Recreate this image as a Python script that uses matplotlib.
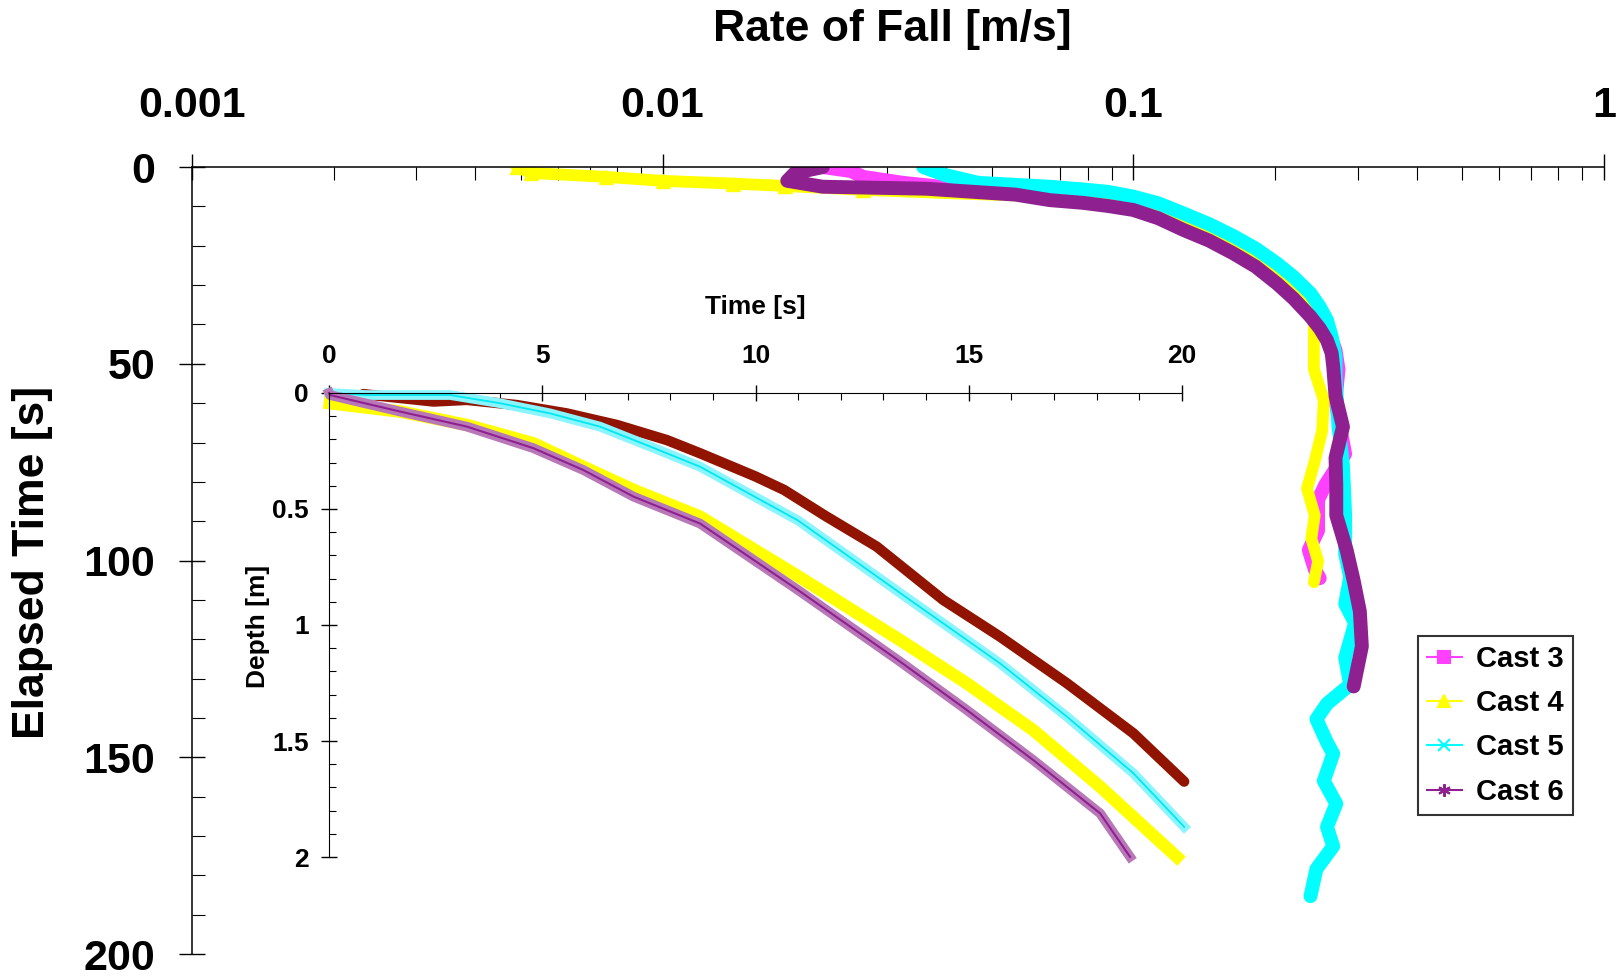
# Rate of fall vs elapsed time, with depth/time inset
import matplotlib
matplotlib.use('Agg')
import matplotlib.pyplot as plt
from matplotlib.ticker import LogLocator, MultipleLocator, NullFormatter
from matplotlib.lines import Line2D

plt.rcParams['font.family'] = ['Liberation Sans', 'DejaVu Sans']
plt.rcParams['font.weight'] = 'bold'

# ---- main plot data: elapsed time [s] and rate of fall [m/s] ----
cast3_time = [0, 1.0, 2.5, 4.0, 5.0, 6.2, 8.7, 13.0, 19.0, 26.0, 33.8, 40.6, 46.5, 51.4,
              59.2, 66.0, 72.9, 80.7, 84.6, 92.4, 97.3, 102.2, 104.5]
cast3_rate = [0.0219, 0.0251, 0.0267, 0.0324, 0.0389, 0.0665, 0.100, 0.128, 0.163, 0.202,
              0.238, 0.258, 0.269, 0.273, 0.269, 0.275, 0.282, 0.256, 0.247, 0.247, 0.236,
              0.243, 0.249]

cast4_time = [0, 1.5, 2.5, 3.5, 4.2, 4.8, 5.8, 6.9, 7.5, 8.2, 9.1, 9.9, 11.8, 14.5, 17.3,
              20.5, 23.7, 27.6, 31.3, 35.5, 39.8, 43.6, 51.4, 59.2, 67.0, 74.8, 81.7, 88.5,
              94.4, 100.2, 105.5]
cast4_rate = [0.0049, 0.00525, 0.00759, 0.0100, 0.0141, 0.0182, 0.0267, 0.0468, 0.0665,
              0.0783, 0.0885, 0.100, 0.113, 0.128, 0.145, 0.163, 0.182, 0.202, 0.219, 0.234,
              0.242, 0.242, 0.242, 0.254, 0.252, 0.243, 0.234, 0.243, 0.239, 0.247, 0.242]

cast5_time = [0, 2.0, 4.0, 5.0, 5.7, 6.3, 7.5, 9.2, 11.8, 14.5, 17.5, 20.7, 24.5, 27.9, 32.1,
              35.5, 38.9, 43.1, 48.2, 53.3, 66.0, 75.8, 88.5, 98.3, 104.2, 111.0, 115.9,
              124.7, 131.5, 136.4, 140.3, 146.2, 149.1, 156.0, 161.8, 167.7, 172.6, 178.4,
              185.3]
cast5_rate = [0.0358, 0.0398, 0.0468, 0.0665, 0.0783, 0.0885, 0.100, 0.113, 0.128, 0.145,
              0.163, 0.182, 0.202, 0.219, 0.238, 0.249, 0.258, 0.264, 0.269, 0.269, 0.273,
              0.279, 0.282, 0.282, 0.289, 0.282, 0.296, 0.282, 0.289, 0.258, 0.245, 0.258,
              0.266, 0.254, 0.270, 0.258, 0.266, 0.245, 0.238]

cast6_time = [0, 1.5, 3.5, 5.0, 5.5, 7.0, 8.4, 9.1, 9.9, 10.9, 13.0, 16.0, 18.7, 21.9, 25.3,
              29.6, 33.4, 38.0, 41.0, 44.0, 47.3, 50.7, 58.2, 66.0, 73.9, 80.7, 88.5, 97.3,
              105.1, 112.9, 121.8, 132.0]
cast6_rate = [0.0219, 0.0191, 0.0184, 0.0219, 0.0363, 0.0562, 0.0665, 0.0783, 0.0885, 0.100,
              0.113, 0.128, 0.145, 0.163, 0.182, 0.202, 0.219, 0.238, 0.249, 0.258, 0.264,
              0.266, 0.269, 0.279, 0.269, 0.270, 0.270, 0.284, 0.294, 0.303, 0.306, 0.294]

# ---- inset data: time [s] and depth [m] ----
in3_time = [0.8, 2.45, 3.23, 4.4, 5.57, 6.75, 7.92, 8.7, 10.0, 10.67, 11.63, 12.84, 14.4,
            15.73, 17.3, 18.86, 20.05]
in3_depth = [0.005, 0.037, 0.030, 0.052, 0.088, 0.138, 0.203, 0.26, 0.36, 0.418, 0.529,
             0.662, 0.892, 1.05, 1.251, 1.467, 1.675]

in4_time = [0.02, 1.66, 3.23, 4.79, 5.96, 7.14, 8.7, 11.0, 13.39, 14.95, 16.51, 18.08, 19.88]
in4_depth = [0.044, 0.08, 0.138, 0.217, 0.318, 0.418, 0.533, 0.79, 1.065, 1.251, 1.453,
             1.697, 2.0]

in5_time = [0, 0.88, 2.84, 4.0, 5.18, 6.35, 7.53, 8.7, 11.0, 13.62, 15.73, 17.3, 18.86, 20.05]
in5_depth = [0.0, 0.009, 0.009, 0.044, 0.088, 0.145, 0.231, 0.318, 0.55, 0.892, 1.165,
             1.395, 1.639, 1.87]

in6_time = [0, 0.02, 1.66, 3.23, 4.79, 5.96, 7.14, 8.7, 11.0, 13.39, 14.95, 16.51, 18.08, 18.78]
in6_depth = [0, 0.009, 0.08, 0.145, 0.238, 0.332, 0.447, 0.563, 0.85, 1.158, 1.366, 1.582,
             1.812, 1.999]

cast_labels = ['Cast 3', 'Cast 4', 'Cast 5', 'Cast 6']
colors = ['#ff40ff', '#ffff00', '#00ffff', '#8e2090']
markers = ['s', '^', 'x', (6, 2, 0)]
maroon = '#901400'

fig = plt.figure(figsize=(16.17, 9.77), dpi=100)

# ---- main axes ----
ax = fig.add_axes([0.1187, 0.0235, 0.8732, 0.8055])
ax.set_facecolor('none')
main_series = [(cast3_rate, cast3_time), (cast4_rate, cast4_time),
               (cast5_rate, cast5_time), (cast6_rate, cast6_time)]
for i, ((r, t), c) in enumerate(zip(main_series, colors)):
    if i == 1:
        # yellow cast shows its triangle markers in the slow start
        ax.plot(r, t, color=c, lw=8.5, marker='^', ms=10, markevery=list(range(7)),
                solid_capstyle='round', solid_joinstyle='round')
    else:
        ax.plot(r, t, color=c, lw=10, solid_capstyle='round', solid_joinstyle='round')

ax.set_xscale('log')
ax.set_xlim(0.001, 1)
ax.set_ylim(200, 0)
ax.xaxis.tick_top()
for s in ['bottom', 'right']:
    ax.spines[s].set_visible(False)
for s in ['top', 'left']:
    ax.spines[s].set_linewidth(1.1)
ax.set_xticks([0.001, 0.01, 0.1, 1])
ax.set_xticklabels(['0.001', '0.01', '0.1', '1'])
ax.xaxis.set_minor_locator(LogLocator(base=10, subs=range(2, 10)))
ax.xaxis.set_minor_formatter(NullFormatter())
ax.set_yticks(range(0, 201, 50))
ax.yaxis.set_minor_locator(MultipleLocator(10))
ax.tick_params(which='major', direction='inout', length=19, width=1.0, labelsize=31)
ax.tick_params(which='minor', direction='in', length=9, width=0.8)
ax.tick_params(axis='x', which='major', pad=20)
ax.tick_params(axis='y', which='major', pad=17)

fig.text(0.5517, 0.970, 'Rate of Fall [m/s]', fontsize=32, ha='center', va='center')
fig.text(0.0204, 0.4248, 'Elapsed Time [s]', fontsize=32, ha='center', va='center',
         rotation=90)

# ---- inset axes ----
ax2 = fig.add_axes([0.2035, 0.1228, 0.5275, 0.475])
ax2.set_facecolor('none')
ax2.plot(in3_time, in3_depth, color=maroon, lw=7.5, solid_capstyle='round',
         solid_joinstyle='round', clip_on=False)
ax2.plot(in5_time, in5_depth, color='#8af4ff', lw=7, solid_joinstyle='round', clip_on=False)
ax2.plot(in5_time, in5_depth, color='#00e8f0', lw=1.3, clip_on=False)
ax2.plot(in4_time, in4_depth, color='#ffff00', lw=9, solid_joinstyle='round', clip_on=False)
ax2.plot(in6_time, in6_depth, color='#b878b8', lw=7, solid_joinstyle='round', clip_on=False)
ax2.plot(in6_time, in6_depth, color='#8e2090', lw=1.5, clip_on=False)

ax2.set_xlim(0, 20)
ax2.set_ylim(2, 0)
ax2.xaxis.tick_top()
for s in ['bottom', 'right']:
    ax2.spines[s].set_visible(False)
ax2.set_xticks([0, 5, 10, 15, 20])
ax2.set_yticks([0, 0.5, 1, 1.5, 2])
ax2.set_yticklabels(['0', '0.5', '1', '1.5', '2'])
ax2.xaxis.set_minor_locator(MultipleLocator(1))
ax2.yaxis.set_minor_locator(MultipleLocator(0.1))
ax2.tick_params(which='major', direction='inout', length=11.5, width=1.0, labelsize=19)
ax2.tick_params(which='minor', direction='in', length=5, width=0.8)
ax2.tick_params(axis='x', which='major', pad=12)
ax2.tick_params(axis='y', which='major', pad=9)

fig.text(0.4669, 0.6858, 'Time [s]', fontsize=19, ha='center', va='center')
fig.text(0.1596, 0.3593, 'Depth [m]', fontsize=19, ha='center', va='center', rotation=90)

# ---- legend ----
handles = [Line2D([0], [0], color=c, marker=m, ms=9, mew=1.5, lw=1.5)
           for c, m in zip(colors, markers)]
leg = fig.legend(handles, cast_labels, loc='upper left', bbox_to_anchor=(0.8769, 0.349),
                 fontsize=21, frameon=True, fancybox=False, edgecolor='black',
                 handlelength=1.2, handletextpad=0.5, borderpad=0.3, labelspacing=0.56,
                 borderaxespad=0)
leg.get_frame().set_linewidth(1.5)

fig.savefig('out.png', dpi=100)
